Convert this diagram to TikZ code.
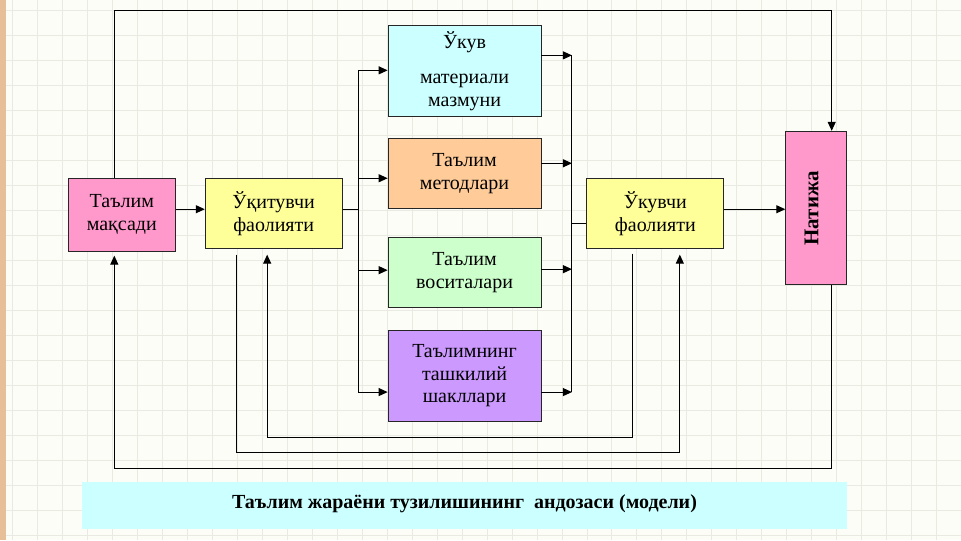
\documentclass[tikz,border=0pt]{standalone}
\usepackage{fontspec}
\setmainfont{Liberation Serif}
\usetikzlibrary{arrows.meta}

\definecolor{fon}{HTML}{FCFDF7}
\definecolor{setkacol}{HTML}{E9EAE2}
\definecolor{polosa}{HTML}{E6BF98}
\definecolor{rozovy}{HTML}{FF99CC}
\definecolor{zholty}{HTML}{FFFF99}
\definecolor{goluboy}{HTML}{CCFFFF}
\definecolor{oranzh}{HTML}{FFCC99}
\definecolor{zeleny}{HTML}{CCFFCC}
\definecolor{fiolet}{HTML}{CC99FF}

\tikzset{
  blok/.style={draw=black!85, line width=0.9pt, inner sep=0pt, align=center,
    font=\fontsize{20}{23}\selectfont},
  strelka/.style={-{Triangle[length=9pt,width=8pt]}, line width=1pt},
  liniya/.style={line width=1pt},
  setka/.style={setkacol, line width=0.8pt}
}

\begin{document}
\begin{tikzpicture}[x=1pt,y=-1pt]
	% fon i setka
	\fill[fon] (0,0) rectangle (961,540);
	\foreach \gx in {12,37,...,961} \draw[setka] (\gx,0) -- (\gx,540);
	\foreach \gy in {10,35,...,540} \draw[setka] (0,\gy) -- (961,\gy);
	\fill[polosa] (0,0) rectangle (6,540);

	% bloki
	\node[blok, fill=rozovy, minimum width=107pt, minimum height=73pt] (maqsad) at (121.5,214.5) {Таълим\\мақсади};
	\node[blok, fill=zholty, minimum width=137pt, minimum height=70pt] (oqit) at (273.5,213) {Ўқитувчи\\фаолияти};
	\node[blok, fill=goluboy, minimum width=153pt, minimum height=91pt] (mazmun) at (464.5,70.5) {Ўкув\\[12pt]материали\\мазмуни};
	\node[blok, fill=oranzh, minimum width=153pt, minimum height=70pt] (metod) at (464.5,173) {Таълим\\методлари};
	\node[blok, fill=zeleny, minimum width=153pt, minimum height=70pt] (vosita) at (464.5,272) {Таълим\\воситалари};
	\node[blok, fill=fiolet, minimum width=153pt, minimum height=91pt] (shakl) at (464.5,375.5) {Таълимнинг\\ташкилий\\шакллари};
	\node[blok, fill=zholty, minimum width=137pt, minimum height=70pt] (oquv) at (655.5,213) {Ўкувчи\\фаолияти};
	\node[blok, fill=rozovy, minimum width=61pt, minimum height=153pt] (natija) at (816.5,207.5) {};
	\node[rotate=90, font=\bfseries\fontsize{21}{24}\selectfont] (natijatxt) at (812,208) {Натижа};

	% podpis'
	\node[fill=goluboy, minimum width=765pt, minimum height=47pt, inner sep=0pt,
	  font=\bfseries\fontsize{20}{23}\selectfont] (model) at (464.5,505.5)
	  {\raisebox{7pt}{Таълим жараёни тузилишининг\ \ андозаси (модели)}};

	% uzlovye tochki
	\coordinate (os) at (0,209);
	\coordinate (lbus) at (358,209);
	\coordinate (ltop) at (358,70);
	\coordinate (lbot) at (358,392);
	\coordinate (rbus) at (572,223);
	\coordinate (rtop) at (572,55);
	\coordinate (rbot) at (572,392);
	\coordinate (topL) at (114,10);
	\coordinate (topR) at (832,10);
	\coordinate (botL) at (114,468);
	\coordinate (botR) at (832,468);
	\coordinate (m1) at (236,452);
	\coordinate (m2) at (680,452);
	\coordinate (n1) at (633,437);
	\coordinate (n2) at (267,437);

	% strelki
	\draw[strelka] (maqsad.east |- os) -- (oqit.west |- os);
	\draw[liniya] (oqit.east |- os) -- (lbus);
	\draw[liniya] (ltop) -- (lbot);
	\draw[strelka] (ltop) -- (mazmun.west |- ltop);
	\draw[strelka] (lbus |- 0,178) -- (metod.west |- 0,178);
	\draw[strelka] (lbus |- 0,270) -- (vosita.west |- 0,270);
	\draw[strelka] (lbot) -- (shakl.west |- lbot);

	\draw[strelka] (mazmun.east |- rtop) -- (rtop);
	\draw[strelka] (metod.east |- 0,163) -- (rbus |- 0,163);
	\draw[strelka] (vosita.east |- 0,269) -- (rbus |- 0,269);
	\draw[strelka] (shakl.east |- rbot) -- (rbot);
	\draw[liniya] (rtop) -- (rbot);
	\draw[liniya] (rbus) -- (oquv.west |- rbus);
	\draw[strelka] (oquv.east |- os) -- (natija.west |- os);

	% obratnye svyazi
	\draw[strelka] (maqsad.north -| topL) -- (topL) -- (topR) -- (natija.north -| topR);
	\draw[strelka, shorten >=4pt] (natija.south -| botR) -- (botR) -- (botL) -- (maqsad.south -| botL);
	\draw[strelka, shorten <=6pt, shorten >=6pt] (oqit.south -| m1) -- (m1) -- (m2) -- (oquv.south -| m2);
	\draw[strelka, shorten <=5pt, shorten >=6pt] (oquv.south -| n1) -- (n1) -- (n2) -- (oqit.south -| n2);
\end{tikzpicture}
\end{document}
